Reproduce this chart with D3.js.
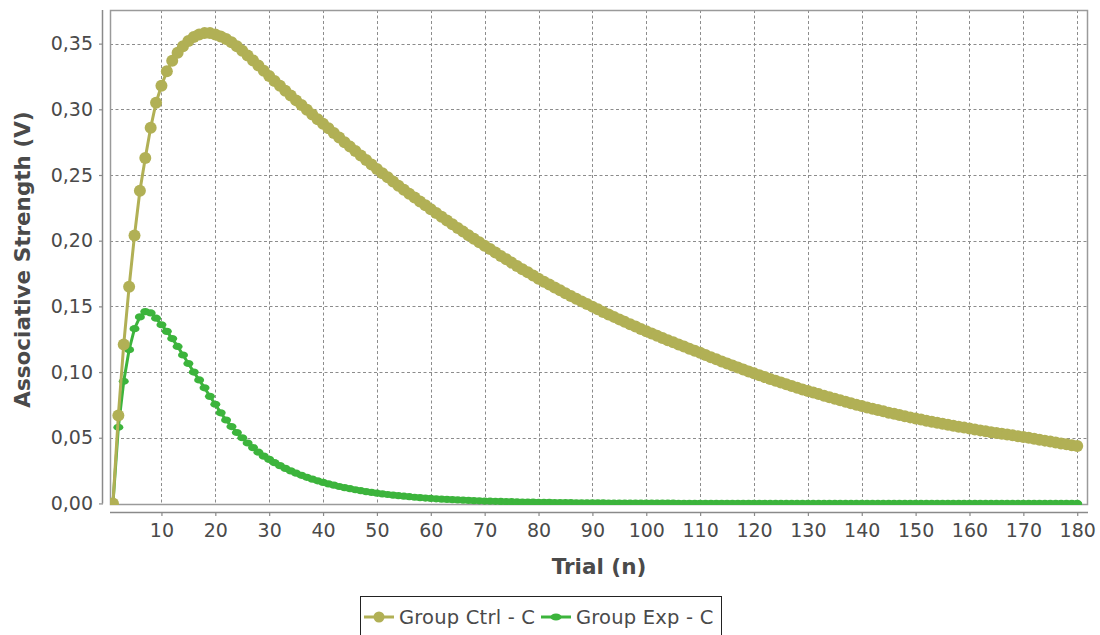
<!DOCTYPE html>
<html>
<head>
<meta charset="utf-8">
<script src="https://cdn.jsdelivr.net/npm/d3@7"></script>
<style>
  html, body { margin: 0; padding: 0; background: #fff; }
  svg { display: block; font-family: "DejaVu Sans", Verdana, sans-serif; }
</style>
</head>
<body>
<svg id="chart" width="1100" height="635"></svg>
<script>
// ---- data ----
const trials = d3.range(1, 181);

const ctrlValues = [
  0, 0.067, 0.121, 0.165, 0.204, 0.238, 0.263, 0.286, 0.305, 0.318,
  0.329, 0.337, 0.343, 0.348, 0.352, 0.355, 0.357, 0.358, 0.358, 0.357,
  0.3555, 0.3535, 0.351, 0.348, 0.3445, 0.341, 0.3372, 0.3333, 0.3293, 0.3253,
  0.3216, 0.3179, 0.3142, 0.3105, 0.3068, 0.3032, 0.2996, 0.296, 0.2925, 0.289,
  0.2855, 0.282, 0.2785, 0.275, 0.2716, 0.2682, 0.2648, 0.2614, 0.258, 0.2546,
  0.2514, 0.2482, 0.245, 0.2419, 0.2388, 0.2358, 0.2328, 0.2298, 0.2269, 0.224,
  0.2211, 0.2182, 0.2153, 0.2125, 0.2097, 0.2069, 0.2042, 0.2015, 0.1988, 0.1962,
  0.1936, 0.191, 0.1884, 0.1858, 0.1833, 0.1808, 0.1783, 0.1759, 0.1735, 0.1711,
  0.1688, 0.1666, 0.1644, 0.1622, 0.16, 0.1579, 0.1558, 0.1538, 0.1518, 0.1498,
  0.1478, 0.1458, 0.1439, 0.142, 0.1401, 0.1382, 0.1364, 0.1346, 0.1328, 0.131,
  0.1293, 0.1276, 0.1259, 0.1242, 0.1226, 0.121, 0.1194, 0.1178, 0.1162, 0.1147,
  0.113, 0.1113, 0.1097, 0.1081, 0.1065, 0.105, 0.1035, 0.102, 0.1005, 0.099,
  0.0976, 0.0962, 0.0948, 0.0934, 0.092, 0.0907, 0.0894, 0.0881, 0.0868, 0.0856,
  0.0844, 0.0832, 0.082, 0.0808, 0.0796, 0.0785, 0.0774, 0.0763, 0.0752, 0.0741,
  0.0731, 0.0721, 0.0711, 0.0701, 0.0691, 0.0682, 0.0673, 0.0664, 0.0655, 0.0646,
  0.0638, 0.063, 0.0622, 0.0614, 0.0606, 0.0598, 0.0591, 0.0584, 0.0577, 0.057,
  0.0563, 0.0556, 0.0549, 0.0542, 0.0536, 0.053, 0.0524, 0.0518, 0.0512, 0.0506,
  0.0499, 0.0492, 0.0485, 0.0478, 0.0471, 0.0464, 0.0457, 0.045, 0.0443, 0.0437
];

const expValues = [
  0, 0.058, 0.093, 0.117, 0.133, 0.142, 0.146, 0.145, 0.141, 0.136,
  0.131, 0.1255, 0.1195, 0.113, 0.1065, 0.100, 0.094, 0.088, 0.0815, 0.0755,
  0.069, 0.0635, 0.0585, 0.054, 0.050, 0.046, 0.0425, 0.039, 0.036, 0.0335,
  0.031, 0.0288, 0.0267, 0.0248, 0.023, 0.0214, 0.0199, 0.0185, 0.0172, 0.016,
  0.0149, 0.0139, 0.0129, 0.012, 0.0112, 0.0104, 0.0097, 0.009, 0.0084, 0.0078,
  0.0073, 0.0068, 0.0063, 0.0059, 0.0055, 0.0051, 0.0047, 0.0044, 0.0041, 0.0038,
  0.0035, 0.0033, 0.0031, 0.0029, 0.0027, 0.0025, 0.0023, 0.0021, 0.002, 0.0018,
  0.0017, 0.0016, 0.0015, 0.0014, 0.0013, 0.0012, 0.0011, 0.001, 0.001, 0.0009,
  0.0008, 0.0008, 0.0007, 0.0007, 0.0006, 0.0006, 0.0005, 0.0005, 0.0005, 0.0004,
  0.0004, 0.0004, 0.0003, 0.0003, 0.0003, 0.0003, 0.0003, 0.0002, 0.0002, 0.0002,
  0.0002, 0.0002, 0.0002, 0.0002, 0.0002, 0.0001, 0.0001, 0.0001, 0.0001, 0.0001,
  0.0001, 0.0001, 0.0001, 0.0001, 0.0001, 0.0001, 0.0001, 0.0001, 0.0001, 0.0001,
  0, 0, 0, 0, 0, 0, 0, 0, 0, 0,
  0, 0, 0, 0, 0, 0, 0, 0, 0, 0,
  0, 0, 0, 0, 0, 0, 0, 0, 0, 0,
  0, 0, 0, 0, 0, 0, 0, 0, 0, 0,
  0, 0, 0, 0, 0, 0, 0, 0, 0, 0,
  0, 0, 0, 0, 0, 0, 0, 0, 0, 0
];

const seriesNames = ["Group Ctrl - C", "Group Exp - C"];
const xTickValues = [10, 20, 30, 40, 50, 60, 70, 80, 90, 100, 110, 120, 130, 140, 150, 160, 170, 180];
const yTickValues = [0, 0.05, 0.10, 0.15, 0.20, 0.25, 0.30, 0.35];
const xTitle = "Trial (n)";
const yTitle = "Associative Strength (V)";

// ---- layout ----
const svg = d3.select("#chart");
const plot = { left: 110, right: 1088, top: 10, bottom: 505 };
const colors = { ctrl: "#b1b055", exp: "#3cb43c" };
const textColor = "#4a4a4a";

const x = d3.scaleLinear().domain([0.45, 182]).range([plot.left, plot.right]);
const y = d3.scaleLinear().domain([-0.0012, 0.3756]).range([plot.bottom, plot.top]);

// plot background
svg.append("rect")
  .attr("x", plot.left).attr("y", plot.top)
  .attr("width", plot.right - plot.left).attr("height", plot.bottom - plot.top)
  .attr("fill", "#fff");

// grid
const grid = svg.append("g").attr("stroke", "#8c8c8c").attr("stroke-width", 1).attr("stroke-dasharray", "3,2.5");
grid.selectAll("line.v").data(xTickValues).join("line")
  .attr("x1", d => Math.round(x(d)) + 0.5).attr("x2", d => Math.round(x(d)) + 0.5)
  .attr("y1", plot.top).attr("y2", plot.bottom);
grid.selectAll("line.h").data(yTickValues.filter(d => d > 0)).join("line")
  .attr("y1", d => Math.round(y(d)) + 0.5).attr("y2", d => Math.round(y(d)) + 0.5)
  .attr("x1", plot.left).attr("x2", plot.right);

// plot border
svg.append("rect")
  .attr("x", plot.left + 0.5).attr("y", plot.top + 0.5)
  .attr("width", plot.right - plot.left - 1).attr("height", plot.bottom - plot.top - 1)
  .attr("fill", "none").attr("stroke", "#9a9a9a").attr("stroke-width", 1.5);

// clip
svg.append("clipPath").attr("id", "clip").append("rect")
  .attr("x", plot.left).attr("y", plot.top)
  .attr("width", plot.right - plot.left).attr("height", plot.bottom - plot.top);

const ctrlData = trials.map((t, i) => ({ t, v: ctrlValues[i] }));
const expData = trials.map((t, i) => ({ t, v: expValues[i] }));
const line = d3.line().x(d => x(d.t)).y(d => y(d.v));

const series = svg.append("g").attr("clip-path", "url(#clip)");

// Exp (drawn first, below)
series.append("path").datum(expData)
  .attr("d", line).attr("fill", "none")
  .attr("stroke", colors.exp).attr("stroke-width", 3);
series.append("g").selectAll("ellipse").data(expData).join("ellipse")
  .attr("cx", d => x(d.t)).attr("cy", d => y(d.v))
  .attr("rx", 5).attr("ry", 3.6)
  .attr("fill", colors.exp);

// Ctrl (on top)
series.append("path").datum(ctrlData)
  .attr("d", line).attr("fill", "none")
  .attr("stroke", colors.ctrl).attr("stroke-width", 3);
series.append("g").selectAll("circle").data(ctrlData).join("circle")
  .attr("cx", d => x(d.t)).attr("cy", d => y(d.v))
  .attr("r", 6)
  .attr("fill", colors.ctrl);

// axes
const fmt = d => d3.format(".2f")(d).replace(".", ",");
const xAxis = d3.axisBottom(x).tickValues(xTickValues).tickSize(4).tickSizeOuter(0).tickPadding(8);
const yAxis = d3.axisLeft(y).tickValues(yTickValues).tickFormat(fmt).tickSize(4).tickSizeOuter(0).tickPadding(6);

const gx = svg.append("g").attr("transform", `translate(0,${plot.bottom + 7})`).call(xAxis);
const gy = svg.append("g").attr("transform", `translate(${plot.left - 7},0)`).call(yAxis);

[gx, gy].forEach(g => {
  g.select(".domain").attr("stroke", "#8a8a8a").attr("stroke-width", 1.5);
  g.selectAll(".tick line").attr("stroke", "#8a8a8a").attr("stroke-width", 1.2);
  g.selectAll(".tick text")
    .attr("fill", textColor)
    .style("font-family", '"DejaVu Sans", Verdana, sans-serif')
    .style("font-size", "19px");
});
gx.select(".domain").attr("d", `M${plot.left},0.5H${plot.right}`);
gy.select(".domain").attr("d", `M-0.5,${plot.top}V${y(0)}`);

// axis titles
svg.append("text")
  .attr("x", (plot.left + plot.right) / 2).attr("y", 574)
  .attr("text-anchor", "middle")
  .attr("fill", textColor)
  .style("font-size", "21.5px").style("font-weight", "bold")
  .text(xTitle);

svg.append("text")
  .attr("transform", `translate(30,${(plot.top + plot.bottom) / 2 + 2}) rotate(-90)`)
  .attr("text-anchor", "middle")
  .attr("fill", textColor)
  .style("font-size", "21.5px").style("font-weight", "bold")
  .text(yTitle);

// legend
const legend = svg.append("g");
legend.append("rect")
  .attr("x", 360.5).attr("y", 596.5).attr("width", 361).attr("height", 50)
  .attr("fill", "#fff").attr("stroke", "#222").attr("stroke-width", 1);

const legendItems = [
  { name: seriesNames[0], color: colors.ctrl, shape: "circle", x0: 364 },
  { name: seriesNames[1], color: colors.exp, shape: "ellipse", x0: 541 }
];
const ly = 617;
legendItems.forEach(it => {
  legend.append("line")
    .attr("x1", it.x0).attr("x2", it.x0 + 30).attr("y1", ly).attr("y2", ly)
    .attr("stroke", it.color).attr("stroke-width", 3);
  if (it.shape === "circle") {
    legend.append("circle").attr("cx", it.x0 + 15).attr("cy", ly).attr("r", 5.5).attr("fill", it.color);
  } else {
    legend.append("ellipse").attr("cx", it.x0 + 15).attr("cy", ly).attr("rx", 5.5).attr("ry", 3.6).attr("fill", it.color);
  }
  legend.append("text")
    .attr("x", it.x0 + 35).attr("y", ly)
    .attr("dy", "0.36em")
    .attr("fill", textColor)
    .style("font-size", "19.5px")
    .style("letter-spacing", "0.2px")
    .text(it.name);
});
</script>
</body>
</html>
